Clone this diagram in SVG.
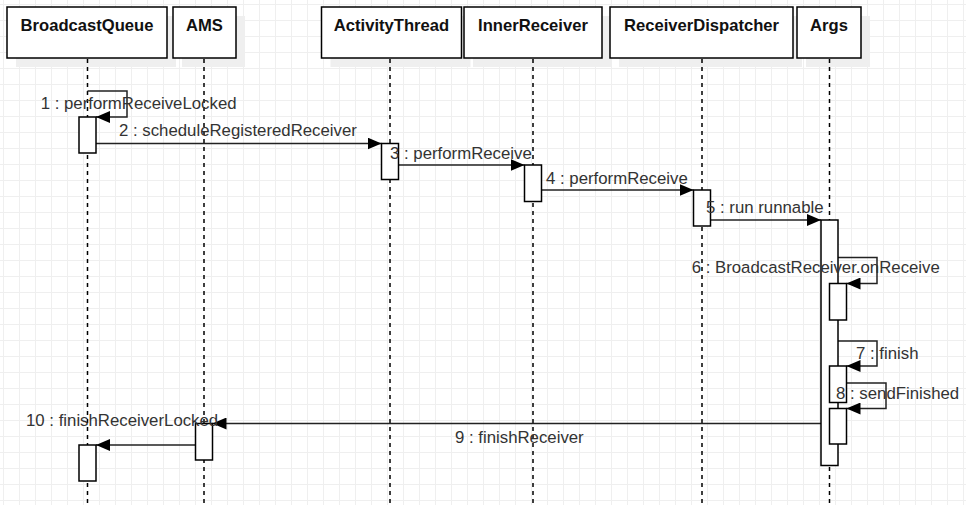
<svg xmlns="http://www.w3.org/2000/svg" width="966" height="505" viewBox="0 0 966 505">
<defs>
<pattern id="grid" width="16" height="16" patternUnits="userSpaceOnUse">
<path d="M3.5 0 V16 M0 4.5 H16" fill="none" stroke="#efefef" stroke-width="1"/>
</pattern>
<marker id="arr" viewBox="0 0 14 12" refX="14" refY="6" markerWidth="14" markerHeight="12" markerUnits="userSpaceOnUse" orient="auto">
<path d="M0,0 L14,6 L0,12 Z" fill="#000"/>
</marker>
<style>
.shadow{fill:#efefef;stroke:none}
.head{fill:#fff;stroke:#000;stroke-width:1.5}
.htxt{font-family:"Liberation Sans",Arial,sans-serif;font-size:16.6px;font-weight:bold;fill:#111;text-anchor:middle}
.life{stroke:#000;stroke-width:1.5;stroke-dasharray:4 4;fill:none}
.act{fill:#fff;stroke:#000;stroke-width:1.5}
.msg{fill:none;stroke:#222;stroke-width:1.5;marker-end:url(#arr)}
.lbl{font-family:"Liberation Sans",Arial,sans-serif;font-size:16.8px;fill:#333}
</style>
</defs>
<rect width="966" height="505" fill="#fff"/>
<rect width="966" height="505" fill="url(#grid)"/>

<g id="BroadcastQueue">
<rect class="shadow" x="16" y="16" width="160" height="51"/>
<rect class="head" x="7" y="7" width="160" height="51"/>
<text class="htxt" x="87" y="30.5">BroadcastQueue</text>
<line class="life" x1="87.5" y1="59" x2="87.5" y2="505"/>
</g>
<g id="AMS">
<rect class="shadow" x="182" y="16" width="63" height="51"/>
<rect class="head" x="173" y="7" width="63" height="51"/>
<text class="htxt" x="204.5" y="30.5">AMS</text>
<line class="life" x1="204" y1="59" x2="204" y2="505"/>
</g>
<g id="ActivityThread">
<rect class="shadow" x="330.5" y="16" width="140" height="51"/>
<rect class="head" x="321.5" y="7" width="140" height="51"/>
<text class="htxt" x="391.5" y="30.5">ActivityThread</text>
<line class="life" x1="390" y1="59" x2="390" y2="505"/>
</g>
<g id="InnerReceiver">
<rect class="shadow" x="473" y="16" width="138" height="51"/>
<rect class="head" x="464" y="7" width="138" height="51"/>
<text class="htxt" x="533" y="30.5">InnerReceiver</text>
<line class="life" x1="533" y1="59" x2="533" y2="505"/>
</g>
<g id="ReceiverDispatcher">
<rect class="shadow" x="619" y="16" width="183" height="51"/>
<rect class="head" x="610" y="7" width="183" height="51"/>
<text class="htxt" x="701.5" y="30.5">ReceiverDispatcher</text>
<line class="life" x1="702" y1="59" x2="702" y2="505"/>
</g>
<g id="Args">
<rect class="shadow" x="806" y="16" width="64" height="51"/>
<rect class="head" x="797" y="7" width="64" height="51"/>
<text class="htxt" x="829" y="30.5">Args</text>
<line class="life" x1="829.5" y1="59" x2="829.5" y2="505"/>
</g>

<g id="connectors">
<path class="msg" d="M87.5,91 H127 V117 H96"/>
<path class="msg" d="M96,143.5 H381.5"/>
<path class="msg" d="M398.5,165 H524.5"/>
<path class="msg" d="M541.5,190 H693.5"/>
<path class="msg" d="M710.5,220 H821"/>
<path class="msg" d="M838,257.5 H877 V283.5 H846.5"/>
<path class="msg" d="M838,341 H877 V366 H846.5"/>
<path class="msg" d="M846.5,383 H886 V408.5 H846.5"/>
<path class="msg" d="M829.5,423.5 H212.5"/>
<path class="msg" d="M195.5,445 H96"/>
</g>

<g id="activations">
<rect class="act" x="79" y="117" width="17" height="36"/>
<rect class="act" x="79" y="445" width="17" height="36"/>
<rect class="act" x="195.5" y="423.5" width="17" height="36.5"/>
<rect class="act" x="381.5" y="143.5" width="17" height="36"/>
<rect class="act" x="524.5" y="165" width="17" height="36.5"/>
<rect class="act" x="693.5" y="190" width="17" height="36"/>
<rect class="act" x="821" y="220" width="17" height="245.5"/>
<rect class="act" x="829.5" y="283.5" width="17" height="36.5"/>
<rect class="act" x="829.5" y="366" width="17" height="36.5"/>
<rect class="act" x="829.5" y="408.5" width="17" height="35.5"/>
</g>

<g id="labels">
<text class="lbl" x="40.7" y="109">1 : performReceiveLocked</text>
<text class="lbl" x="119" y="136">2 : scheduleRegisteredReceiver</text>
<text class="lbl" x="390" y="158.5">3 : performReceive</text>
<text class="lbl" x="546" y="183.5">4 : performReceive</text>
<text class="lbl" x="706" y="212.5">5 : run runnable</text>
<text class="lbl" x="691.7" y="273">6 : BroadcastReceiver.onReceive</text>
<text class="lbl" x="856" y="358.7">7 : finish</text>
<text class="lbl" x="836" y="399.3">8 : sendFinished</text>
<text class="lbl" x="455" y="442.7">9 : finishReceiver</text>
<text class="lbl" x="26" y="425.7">10 : finishReceiverLocked</text>
</g>
</svg>
